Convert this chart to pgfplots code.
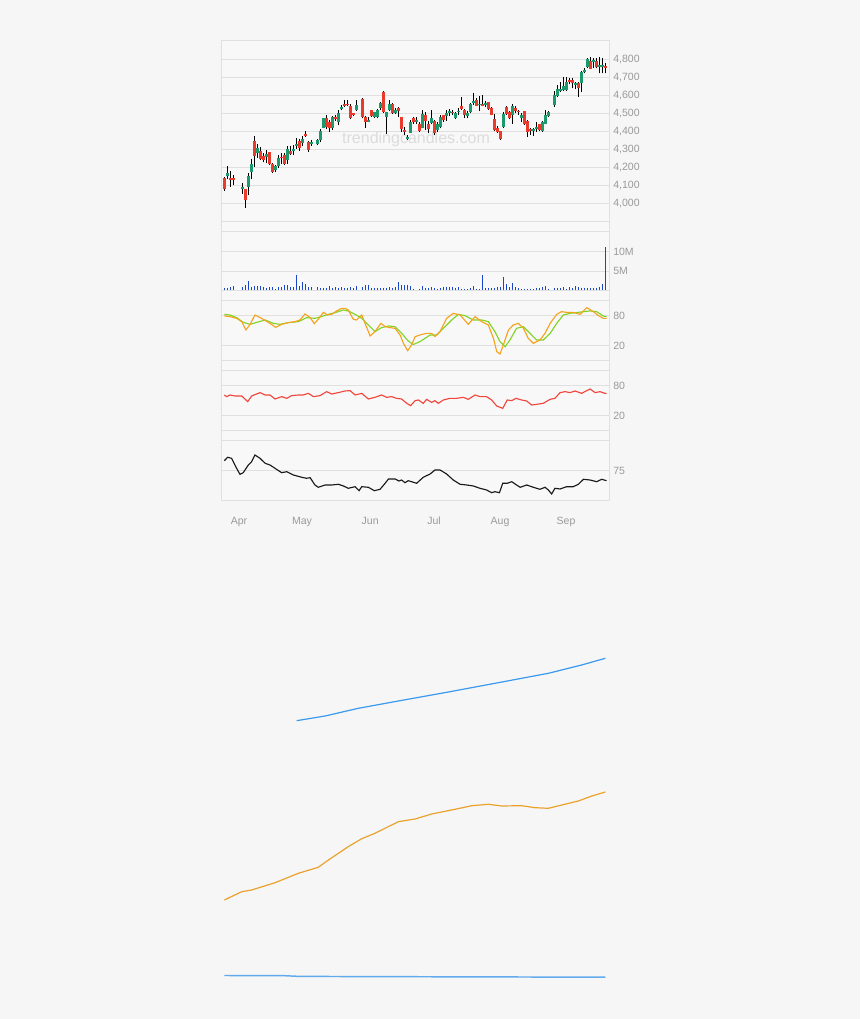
\documentclass[border=0pt]{standalone}
\usepackage{pgfplots}
\pgfplotsset{compat=1.18}
\usepackage{pgfplotstable}
\usepackage{fontspec}
\setmainfont{Liberation Sans}
\definecolor{bgc}{HTML}{F6F6F6}
\definecolor{plotbg}{HTML}{F8F8F8}
\definecolor{gridc}{HTML}{E0E0E0}
\definecolor{labc}{HTML}{9A9A9A}
\definecolor{upc}{HTML}{1C9A6C}
\definecolor{dnc}{HTML}{EA3A2C}
\definecolor{volc}{HTML}{1A46C8}
\definecolor{stk}{HTML}{F5A31F}
\definecolor{std}{HTML}{7FD425}
\definecolor{rsic}{HTML}{F0463C}
\definecolor{mablue}{HTML}{3A9AEE}
\definecolor{maorange}{HTML}{EBA22C}
\definecolor{malight}{HTML}{62AAEE}
\definecolor{wmc}{HTML}{DCDCDC}
\newcommand\lab{\fontsize{7.9}{9}\selectfont}

% candles: d open high low close
\pgfplotstableread{
d o h l c
1 4152 4207 4135 4170
6 4082 4115 4056 4091
8 4093 4170 4046 4154
9 4176 4246 4135 4220
11 4283 4330 4254 4309
14 4257 4296 4226 4276
17 4185 4213 4176 4207
18 4207 4269 4198 4254
21 4244 4319 4222 4304
23 4293 4324 4272 4304
24 4320 4365 4305 4333
26 4337 4374 4319 4357
29 4330 4352 4320 4339
31 4328 4361 4324 4354
32 4352 4413 4339 4404
33 4420 4476 4417 4472
36 4417 4487 4407 4478
38 4450 4517 4435 4504
39 4522 4546 4517 4533
44 4518 4572 4513 4546
48 4455 4481 4450 4463
50 4481 4509 4476 4506
51 4481 4524 4472 4518
52 4528 4565 4518 4556
54 4481 4509 4385 4506
55 4518 4574 4513 4550
57 4504 4531 4496 4518
61 4357 4383 4352 4372
62 4394 4463 4389 4450
64 4454 4481 4444 4463
66 4422 4518 4417 4496
69 4448 4518 4444 4472
71 4407 4450 4398 4439
72 4426 4491 4417 4481
74 4487 4518 4457 4500
75 4502 4524 4487 4511
77 4476 4506 4468 4500
78 4506 4528 4491 4513
81 4487 4515 4472 4504
82 4506 4556 4500 4552
83 4556 4611 4546 4570
85 4546 4598 4513 4554
87 4548 4570 4537 4557
93 4426 4506 4417 4496
96 4491 4550 4444 4541
99 4472 4500 4450 4494
103 4402 4420 4376 4411
104 4413 4454 4398 4426
106 4404 4457 4398 4450
107 4444 4518 4439 4491
108 4487 4513 4481 4506
110 4546 4624 4537 4600
111 4596 4657 4593 4635
112 4624 4676 4620 4634
113 4629 4704 4624 4654
114 4630 4704 4624 4672
117 4660 4676 4633 4669
119 4667 4735 4617 4731
120 4728 4750 4722 4741
121 4756 4809 4750 4800
123 4787 4806 4754 4796
125 4759 4815 4722 4769
126 4756 4809 4722 4769
}\upt
\pgfplotstableread{
d o h l c
0 4144 4148 4069 4080
2 4143 4180 4093 4130
3 4142 4161 4102 4131
7 4080 4083 3976 4022
10 4346 4374 4204 4265
12 4293 4315 4244 4248
13 4263 4278 4228 4241
15 4285 4287 4213 4219
16 4222 4226 4167 4178
19 4260 4283 4217 4251
20 4270 4283 4213 4219
22 4293 4319 4269 4274
25 4346 4361 4293 4306
27 4385 4404 4370 4376
28 4343 4346 4287 4300
34 4476 4491 4413 4424
35 4452 4465 4398 4418
37 4480 4491 4457 4470
40 4552 4574 4537 4543
41 4555 4574 4539 4544
42 4543 4550 4470 4472
43 4500 4504 4485 4491
46 4580 4583 4472 4481
47 4481 4485 4422 4450
49 4518 4520 4480 4485
53 4620 4624 4504 4506
56 4552 4559 4496 4500
58 4528 4535 4481 4513
59 4478 4481 4398 4413
60 4407 4426 4380 4398
63 4472 4481 4444 4450
65 4444 4450 4398 4404
67 4491 4506 4407 4459
68 4444 4457 4389 4411
70 4457 4463 4380 4389
73 4491 4494 4454 4463
76 4508 4518 4491 4500
79 4541 4589 4518 4524
80 4518 4522 4472 4491
84 4574 4583 4541 4543
86 4552 4602 4541 4543
88 4561 4565 4518 4524
89 4531 4535 4491 4494
90 4468 4496 4404 4407
91 4422 4430 4394 4398
92 4400 4404 4352 4359
94 4533 4539 4491 4496
95 4506 4513 4467 4472
97 4528 4543 4500 4513
98 4514 4518 4494 4506
100 4513 4516 4435 4441
101 4457 4463 4370 4398
102 4411 4420 4380 4402
105 4439 4444 4402 4407
115 4685 4698 4661 4676
116 4685 4694 4639 4667
118 4667 4676 4593 4643
122 4793 4815 4744 4746
124 4791 4809 4750 4756
127 4763 4778 4722 4752
}\dnt
% volume in millions
\pgfplotstableread{
d v
0 0.7
1 0.7
2 1.1
3 1.3
6 0.9
7 1.5
8 2.6
9 1.1
10 1.3
11 1.3
12 1.3
13 0.9
14 0.8
15 1.0
16 0.9
17 0.5
18 1.1
19 0.9
20 1.4
21 1.4
22 0.9
23 1.1
24 4.1
25 1.3
26 2.2
27 1.9
28 1.0
29 1.1
31 0.9
32 0.7
33 0.7
34 0.8
35 1.3
36 0.85
37 1.1
38 0.8
39 1.0
40 0.7
41 0.8
42 0.9
43 0.85
44 1.3
46 1.1
47 1.4
48 1.4
49 0.85
50 0.85
51 0.85
52 0.7
53 0.85
54 0.7
55 0.9
56 0.85
57 1.1
58 2.4
59 1.5
60 1.4
61 1.5
62 1.2
63 0.6
64 0.35
65 0.5
66 1.36
67 0.85
68 0.85
69 0.93
70 0.68
71 0.5
72 0.85
73 0.93
74 1.0
75 0.93
76 1.1
77 0.68
78 0.93
79 0.5
80 0.5
81 0.6
82 0.85
83 1.27
84 0.5
85 0.5
86 4.07
87 0.68
88 0.68
89 0.68
90 0.76
91 0.93
92 0.93
93 3.64
94 1.7
95 1.1
96 1.95
97 1.0
98 0.68
99 0.6
100 0.6
101 0.5
102 0.5
103 0.5
104 0.68
105 0.68
106 1.0
107 1.36
108 0.5
110 0.68
111 0.68
112 0.68
113 0.93
114 0.5
115 1.1
116 0.85
117 1.27
118 0.93
119 0.85
120 0.85
121 0.85
122 0.85
123 0.85
124 0.85
125 1.1
126 1.86
127 11.3
}\volt
\pgfplotstableread{
d k
0 80
1.9 78.7
4.1 75.3
5.8 68.7
7.2 52
8.6 63.3
10.2 82
11.3 78.7
13.0 73.3
15.2 65.3
17.1 57.3
19.1 63.3
21.3 66.7
23.6 68.7
25.2 72
26.9 84
28.6 76.7
30.0 64.7
31.3 73.3
33.0 87.3
34.4 82
35.8 83.3
37.4 90
38.9 94.7
40.2 95.3
41.3 92
43.0 73.3
44.1 72
45.8 82
46.9 65.3
48.6 40
50.2 48.7
52.2 65.3
53.6 58.7
55.2 56.7
56.9 55.3
58.6 42
59.7 25.3
61.1 10.7
62.4 22
63.6 38.7
65.2 42
67.4 45.3
69.1 45.3
70.2 38.7
71.9 48.7
74.1 75.3
76.3 85.3
78.6 82
81.3 63.3
83.6 78.7
85.8 68.7
88.0 62
89.7 35.3
90.8 8.7
91.9 4
93.0 22
94.7 52
96.3 62
98.0 65.3
99.7 55.3
101.3 35.3
103.0 25.3
105.2 32
106.9 45.3
108.6 65.3
110.8 83.3
112.4 88.7
114.1 87.3
116.3 87.3
118.6 83.3
120.8 96.7
123.0 88.7
124.7 80.7
126.3 75.3
127.4 75.3
}\stkt
\pgfplotstableread{
d s
0 83.3
1.9 82
4.1 76.7
6.3 67.3
8.6 63.3
10.8 67.3
13.6 72
16.3 65.3
18.6 63.3
21.3 66.7
24.7 68.7
27.4 76.7
30.2 75.3
32.4 78.7
34.7 83.3
36.9 86.7
39.7 92
41.3 90
43.6 83.3
45.8 75.3
48.0 62
50.2 48.7
52.4 56.7
54.7 60
56.9 58.7
59.1 45.3
61.3 30
63.0 23
65.2 28.7
68.6 42
70.8 42
73.0 55.3
75.8 72
78.0 83.3
80.2 80.7
83.0 72
85.8 72
88.0 68.7
90.2 48.7
91.9 28.7
93.6 18.7
95.2 32
97.4 55.3
99.7 58.7
101.9 45.3
104.1 32
106.3 32
108.6 45.3
110.8 65.3
113.0 82
115.2 85.3
117.4 86.7
119.7 88.7
121.9 90
124.1 88.7
126.3 80
127.4 78.7
}\stdt
\pgfplotstableread{
d r
0 62
0.8 58.7
1.9 62
3.6 60
5.8 60
7.8 48.7
9.1 60
11.9 66.7
13.6 62
15.2 62
16.9 54
19.1 58.7
20.8 55.3
22.4 60.7
24.7 62
26.3 62
28.0 65.3
29.7 58.7
31.9 60.7
34.1 68.7
35.8 64
38.0 66.7
40.2 70
41.9 70.7
43.6 62
45.8 65.3
48.0 54
50.2 57.3
52.4 62
54.1 57.3
55.8 58.7
57.4 55.3
59.1 54
60.8 45.3
62.1 40.7
63.6 50.7
64.7 52
66.3 45.3
67.4 53.3
69.1 47.3
70.2 50.7
71.3 45.3
73.0 52
75.2 55.3
77.4 55.3
79.7 57.3
81.3 53.3
83.6 62
85.2 58.7
87.4 58.7
89.1 52
90.8 40
92.8 35.3
94.3 52
95.8 50.7
97.2 55.3
99.1 52
100.8 50
102.4 42
104.1 43.3
106.3 45.3
108.6 53.3
110.2 55.3
111.9 66.7
113.6 68.7
115.2 66.7
116.9 70
119.1 65.3
120.8 70.7
121.9 74
123.6 66.7
125.2 68.7
126.9 65.3
127.4 65.3
}\rsit
\pgfplotstableread{
d b
0 85.3
1.1 88.7
2.4 87.7
3.8 79.3
5.2 71.7
6.3 73.3
8.0 81
9.1 84.3
10.2 91
11.9 87.7
13.6 82.7
15.2 81
16.9 77.7
19.1 73.3
20.8 74.3
23.0 71
25.8 68.7
27.4 67.7
28.6 68.3
30.2 61
31.3 58.7
33.6 61
35.8 61
38.0 61.7
39.7 60
41.3 57.7
43.6 59.3
44.9 55.3
45.8 59.3
48.0 58.7
50.0 55.3
51.9 56.7
53.6 62.7
54.7 67
56.9 67
58.2 65
59.1 66
60.2 63.3
61.3 65.3
62.4 64.3
64.1 62.7
66.3 68.7
68.6 72
70.2 76
71.9 76
74.1 72
76.3 66
78.6 61.7
80.8 61
83.0 60
85.2 57.7
87.4 56
89.1 53.3
90.2 54.3
91.7 53.3
92.8 62.7
94.3 62.7
95.8 64.3
97.4 61
98.6 58.7
100.8 61
103.0 58.7
105.2 56.7
106.9 58.7
108.0 56
109.1 52
110.2 57.7
111.9 57
114.1 59.3
116.3 59.3
118.0 61.7
119.7 66.7
121.9 66
124.1 64.3
125.8 66.7
127.4 65.3
}\blkt
\pgfplotstableread{
d y
24.1 298.3
33.6 303
44.7 310.7
58.0 318
74.7 327
91.3 336.3
108.0 345.7
119.1 354
127.0 360.7
}\mabt
\pgfplotstableread{
d y
0 119
5.8 127.3
9.1 129
16.9 136.3
24.7 145.7
31.3 151.7
34.7 159
41.3 172.3
45.8 180.3
50.2 185.7
58.0 197.3
63.6 200
69.1 205
76.9 209.7
82.5 213.3
88.0 214.7
92.5 213
99.1 213.3
103.6 211.3
108.0 210.7
112.5 214
118.0 218
122.5 223
127.0 227
}\maot
\pgfplotstableread{
d y
0 43.5
20 43.3
25 42.6
60 42.3
100 42.0
127 41.8
}\malt

\pgfplotsset{
  panel/.style={
    scale only axis, width=291pt, xmin=-1.11, xmax=128.22,
    anchor=north west,
    axis line style={draw=gridc, line width=0.75pt},
    ymajorgrids, grid style={draw=gridc, line width=0.75pt},
    major tick length=0pt, xtick=\empty,
    yticklabel pos=right,
    yticklabel style={font=\lab, text=labc, anchor=west, inner sep=0pt, xshift=3pt},
    axis background/.style={fill=plotbg},
    extra y tick style={grid=major},
    extra y tick labels={},
  },
  wick/.style={draw=none, mark=none, forget plot,
    error bars/.cd, y dir=plus, y explicit, error mark=none,
    error bar style={draw=black, line width=0.75pt}},
  body/.style={draw=none, mark=none, forget plot,
    error bars/.cd, y dir=plus, y explicit, error mark=none,
    error bar style={draw=#1, line width=1.9pt}},
}

\begin{document}
\begin{tikzpicture}
\useasboundingbox (0,0) rectangle (645pt,764.25pt);
\fill[bgc] (0,0) rectangle (645pt,764.25pt);

% price panel
\begin{axis}[panel, at={(165.75pt,733.5pt)}, height=143.025pt,
  ymin=3844.4, ymax=4901.7,
  ytick={4000,4100,4200,4300,4400,4500,4600,4700,4800},
  yticklabels={{4,000},{4,100},{4,200},{4,300},{4,400},{4,500},{4,600},{4,700},{4,800}},
  extra y ticks={3900}]
\node[font=\fontsize{12}{14}\selectfont, text=wmc] at (axis cs:63.9,4357) {trendingcandles.com};
\addplot[wick] table[x=d, y=l, y error expr=\thisrow{h}-\thisrow{l}] {\upt};
\addplot[wick] table[x=d, y=l, y error expr=\thisrow{h}-\thisrow{l}] {\dnt};
\addplot[body=upc] table[x=d, y=o, y error expr=\thisrow{c}-\thisrow{o}] {\upt};
\addplot[body=dnc] table[x=d, y=c, y error expr=\thisrow{o}-\thisrow{c}] {\dnt};
\end{axis}

% volume panel
\begin{axis}[panel, at={(165.75pt,590.475pt)}, height=44.475pt,
  ymin=0, ymax=15.09, ytick={5,10}, yticklabels={5M,10M}]
\addplot[ycomb, draw=volc, line width=0.8pt, mark=none] table[x=d, y=v] {\volt};
\end{axis}

% stochastic panel
\begin{axis}[panel, at={(165.75pt,546pt)}, height=60pt,
  ymin=-30, ymax=130, ytick={20,80}, yticklabels={20,80}, extra y ticks={-10,110}]
\addplot[std, line width=0.85pt, mark=none] table[x=d, y=s] {\stdt};
\addplot[stk, line width=0.85pt, mark=none] table[x=d, y=k] {\stkt};
\end{axis}

% RSI panel
\begin{axis}[panel, at={(165.75pt,486pt)}, height=52.5pt,
  ymin=-30, ymax=110, ytick={20,80}, yticklabels={20,80}, extra y ticks={-10}]
\addplot[rsic, line width=0.85pt, mark=none] table[x=d, y=r] {\rsit};
\end{axis}

% last panel
\begin{axis}[panel, at={(165.75pt,433.5pt)}, height=45pt,
  ymin=45, ymax=105, ytick={75}, yticklabels={75},
  xtick={4.89,25.9,48.6,69.9,91.9,113.9},
  xticklabels={Apr,May,Jun,Jul,Aug,Sep},
  xticklabel style={font=\lab, text=labc, anchor=base, yshift=-17.6pt}]
\addplot[black!90, line width=0.85pt, mark=none] table[x=d, y=b] {\blkt};
\end{axis}

% moving-average lines without axes
\begin{axis}[scale only axis, width=291pt, height=262.5pt, at={(165.75pt,284.25pt)},
  anchor=north west, xmin=-1.11, xmax=128.22, ymin=29, ymax=379, hide axis]
\addplot[mablue, line width=0.9pt, mark=none] table[x=d, y=y] {\mabt};
\addplot[maorange, line width=0.9pt, mark=none] table[x=d, y=y] {\maot};
\addplot[malight, line width=1.1pt, mark=none] table[x=d, y=y] {\malt};
\end{axis}
\end{tikzpicture}
\end{document}
